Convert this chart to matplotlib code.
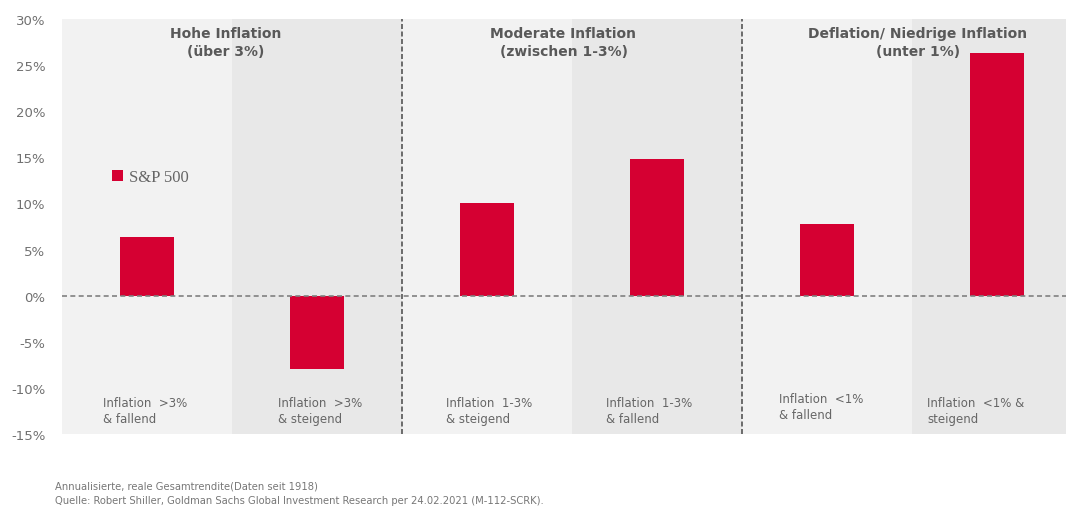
import matplotlib
matplotlib.use("Agg")
import matplotlib.pyplot as plt
from matplotlib.ticker import FuncFormatter

# data
categories = ["Inflation  >3%\n& fallend", "Inflation  >3%\n& steigend",
              "Inflation  1-3%\n& steigend", "Inflation  1-3%\n& fallend",
              "Inflation  <1%\n& fallend", "Inflation  <1% &\nsteigend"]
sp500 = [6.4, -7.9, 10.1, 14.8, 7.8, 26.3]
groups = ["Hohe Inflation\n(über 3%)", "Moderate Inflation\n(zwischen 1-3%)",
          "Deflation/ Niedrige Inflation\n(unter 1%)"]
yticks = [-15, -10, -5, 0, 5, 10, 15, 20, 25, 30]
footnote = ("Annualisierte, reale Gesamtrendite(Daten seit 1918)\n"
            "Quelle: Robert Shiller, Goldman Sachs Global Investment Research per 24.02.2021 (M-112-SCRK).")

red = "#d50032"
grey_txt = "#666666"

fig = plt.figure(figsize=(10.66, 5.10), dpi=100)
ax = fig.add_axes([62/1066, 1-435/510, 1004/1066, 415/510])

n = len(sp500)
x = list(range(n))

# alternating background bands
for i in x:
    ax.axvspan(i-0.5, i+0.5, color="#f2f2f2" if i % 2 == 0 else "#e8e8e8", lw=0, zorder=0)

bars = ax.bar(x, sp500, width=0.32, color=red, zorder=2, label="S&P 500")

ax.axhline(0, color="#808080", lw=1.2, ls=(0, (3, 2)), zorder=3)
for b in (1.5, 3.5):
    ax.axvline(b, color="#555555", lw=1.2, ls=(0, (3, 1.5)), zorder=3)

ax.set_xlim(-0.5, -0.5 + 1004/170)
ax.set_ylim(-15, 30)
ax.set_yticks(yticks)
ax.yaxis.set_major_formatter(FuncFormatter(lambda v, p: "%d%%" % v))
ax.tick_params(axis="y", length=0, pad=12, labelsize=9.5, labelcolor="#707070")
ax.set_xticks([])
for s in ax.spines.values():
    s.set_visible(False)

# group headers
hdr_x = [0.46, 2.45, 4.535]
for gx, g in zip(hdr_x, groups):
    ax.text(gx, 29.2, g, ha="center", va="top", fontsize=10, fontweight="bold",
            color="#595959", linespacing=1.35)

# category labels
lab_off = [0.24, 0.27, 0.26, 0.20, 0.22, 0.09]
lab_y = [-12.5, -12.5, -12.5, -12.5, -12.0, -12.5]
for i, c in enumerate(categories):
    ax.text(i - 0.5 + lab_off[i], lab_y[i], c, ha="left", va="center",
            fontsize=8.5, color=grey_txt, linespacing=1.3)

leg = ax.legend(loc="center left", bbox_to_anchor=(0.05, 0.619), frameon=False,
                handlelength=0.65, handleheight=0.65, handletextpad=0.35,
                borderpad=0, borderaxespad=0,
                prop={"family": "Liberation Serif", "size": 12})
for t in leg.get_texts():
    t.set_color(grey_txt)

fig.text(55/1066, 1-482/510, footnote, ha="left", va="top", fontsize=7.2,
         color="#777777", linespacing=1.45)

fig.savefig("out.png", dpi=100)
